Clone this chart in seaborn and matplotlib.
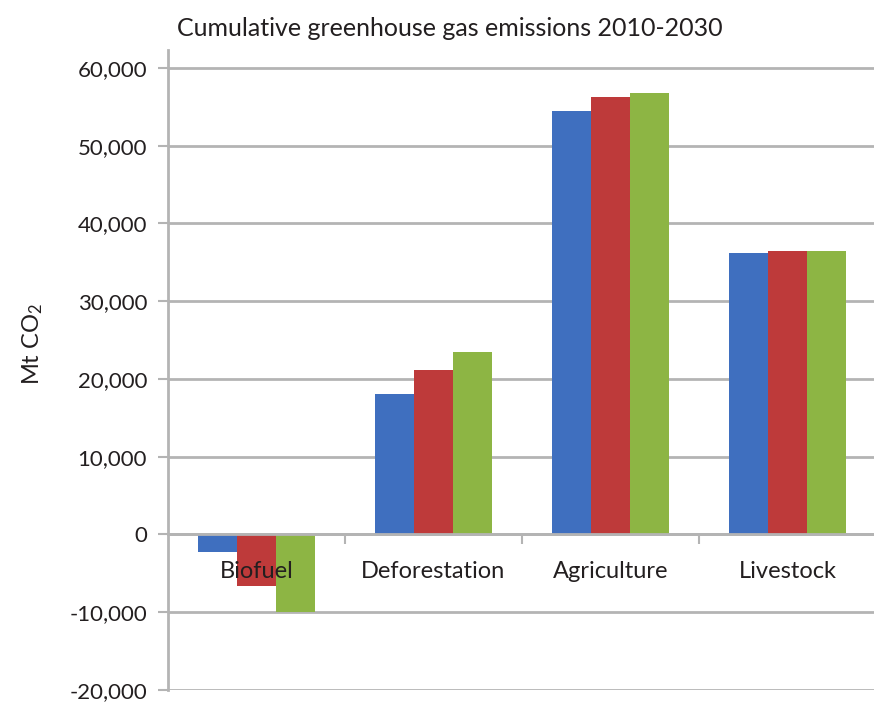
import matplotlib
matplotlib.use("Agg")
import matplotlib.pyplot as plt
import matplotlib.ticker as mticker
import pandas as pd
import seaborn as sns

categories = ["Biofuel", "Deforestation", "Agriculture", "Livestock"]
series_names = ["Scenario A", "Scenario B", "Scenario C"]
scenario_a = [-2300, 18100, 54400, 36200]
scenario_b = [-6600, 21200, 56200, 36400]
scenario_c = [-10000, 23500, 56800, 36400]
colors = ["#3F6FBF", "#BE3A3A", "#8DB544"]
y_ticks = [-20000, -10000, 0, 10000, 20000, 30000, 40000, 50000, 60000]

rows = []
for name, vals in zip(series_names, [scenario_a, scenario_b, scenario_c]):
    for cat, v in zip(categories, vals):
        rows.append({"category": cat, "value": v, "series": name})
df = pd.DataFrame(rows)

sns.set_style("white")
plt.rcParams["font.family"] = ["Lato", "DejaVu Sans"]
plt.rcParams["mathtext.default"] = "regular"
plt.rcParams["axes.unicode_minus"] = False
text_color = "#231f20"
line_color = "#b4b4b4"

fig = plt.figure(figsize=(8.74, 7.02), dpi=100)
ax = fig.add_axes([0.1922, 0.0171, 0.81, 0.9117])

sns.barplot(data=df, x="category", y="value", hue="series", order=categories,
            hue_order=series_names, palette=colors, saturation=1, width=0.66,
            gap=0, linewidth=0, legend=False, ax=ax)

ax.set_ylim(-20000, 62300)
ax.set_xlim(-0.5, 3.5)
ax.set_yticks(y_ticks)
ax.yaxis.set_major_formatter(mticker.StrMethodFormatter("{x:,.0f}"))
ax.grid(axis="y", color=line_color, linewidth=2)
ax.set_axisbelow(True)
ax.xaxis.set_zorder(3)

for side in ["top", "right"]:
    ax.spines[side].set_visible(False)
ax.spines["left"].set_color(line_color)
ax.spines["left"].set_linewidth(2)
ax.spines["bottom"].set_position(("data", 0))
ax.spines["bottom"].set_color(line_color)
ax.spines["bottom"].set_linewidth(2)

ax.tick_params(axis="y", length=7, width=1.5, color=line_color, labelsize=16,
               labelcolor=text_color, pad=8, left=True)
ax.tick_params(axis="x", which="major", length=0, pad=19, labelsize=17,
               labelcolor=text_color)
ax.set_xticks([0.5, 1.5, 2.5], minor=True)
ax.tick_params(axis="x", which="minor", length=7, width=1.5, color=line_color,
               direction="out", bottom=True)
ax.set_xlabel("")
ax.set_ylabel("")

fig.text(0.515, 0.960, "Cumulative greenhouse gas emissions 2010-2030",
         ha="center", va="center", fontsize=18, color=text_color)
fig.text(0.037, 0.51, "Mt CO$_2$", rotation=90, ha="center", va="center",
         fontsize=17, color=text_color)

fig.savefig("out.png", dpi=100)
